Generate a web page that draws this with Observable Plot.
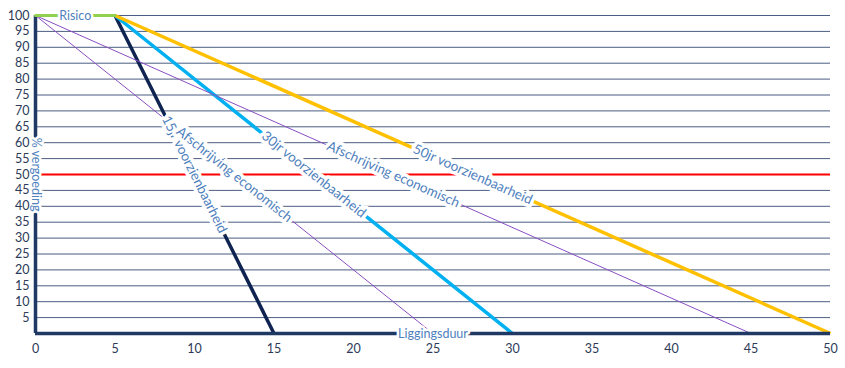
<!DOCTYPE html>
<html><head><meta charset="utf-8">
<script src="https://cdn.jsdelivr.net/npm/d3@7"></script>
<script src="https://cdn.jsdelivr.net/npm/@observablehq/plot@0.6"></script>
<style>body{margin:0;background:#fff}</style>
</head><body><div id="chart"></div>
<script>
const xTicks = [0, 5, 10, 15, 20, 25, 30, 35, 40, 45, 50];
const yTicks = [5, 10, 15, 20, 25, 30, 35, 40, 45, 50, 55, 60, 65, 70, 75, 80, 85, 90, 95, 100];
const gridValues = [5, 10, 15, 20, 25, 30, 35, 40, 45, 55, 60, 65, 70, 75, 80, 85, 90, 95, 100];
const seriesNames = ["15jr voorzienbaarheid", "30jr voorzienbaarheid", "50jr voorzienbaarheid", "Afschrijving economisch", "Afschrijving economisch"];
const seriesX1 = [5, 5, 5, 0, 0];
const seriesY1 = [100, 100, 100, 100, 100];
const seriesX2 = [15, 30, 50, 25, 45];
const seriesY2 = [0, 0, 0, 0, 0];
const riskLabel = "Risico";
const riskX = [0, 5];
const riskY = [100, 100];
const thresholdY = 50;
const xLabel = "Liggingsduur";
const yLabel = "% vergoeding";

// styles
const seriesColors = ["#0f2350", "#00b0f0", "#ffc000", "#8a4fc2", "#8a4fc2"];
const seriesWidths = [3.5, 3.5, 3.5, 1, 1];
const W = 845, H = 368, mL = 35, mR = 15, mT = 15, mB = 35;
const pw = W - mL - mR, ph = H - mT - mB;

const series = seriesNames.map((name, i) => ({
  name, i, x1: seriesX1[i], y1: seriesY1[i], x2: seriesX2[i], y2: seriesY2[i],
  mx: (seriesX1[i] + seriesX2[i]) / 2, my: (seriesY1[i] + seriesY2[i]) / 2,
  angle: Math.atan2((seriesY1[i] - seriesY2[i]) * ph / 100, (seriesX2[i] - seriesX1[i]) * pw / 50) * 180 / Math.PI
}));

const font = "Lato, 'Open Sans', sans-serif";
const labelColor = "#4f81bd";

const chart = Plot.plot({
  width: W, height: H,
  marginLeft: mL, marginRight: mR, marginTop: mT, marginBottom: mB,
  style: {fontFamily: font, background: "#fff", overflow: "visible"},
  x: {domain: [0, 50]},
  y: {domain: [0, 100]},
  marks: [
    Plot.ruleY(gridValues, {x1: 0, x2: 50, stroke: "#4a5d82", strokeWidth: 1}),
    Plot.ruleY([thresholdY], {x1: 0, x2: 50, stroke: "#ff0000", strokeWidth: 2}),
    ...series.map(s => Plot.link([s], {x1: "x1", y1: "y1", x2: "x2", y2: "y2", stroke: seriesColors[s.i], strokeWidth: seriesWidths[s.i]})),
    Plot.ruleX([0], {y1: 0, y2: 100, stroke: "#1f3864", strokeWidth: 3.5}),
    Plot.ruleY([0], {x1: 0, x2: 50, stroke: "#1f3864", strokeWidth: 3.5}),
    Plot.line(riskX.map((x, i) => ({x, y: riskY[i]})), {x: "x", y: "y", stroke: "#92d050", strokeWidth: 3}),
    Plot.text(series, {x: "mx", y: "my", text: "name", rotate: "angle", fill: labelColor, stroke: "white", strokeWidth: 7, paintOrder: "stroke", fontSize: 13.5}),
    Plot.text([riskLabel], {x: (riskX[0] + riskX[1]) / 2, y: riskY[0], text: d => d, fill: labelColor, stroke: "white", strokeWidth: 5, paintOrder: "stroke", fontSize: 12.5}),
    Plot.text([yLabel], {x: 0, y: 50, text: d => d, rotate: 90, fill: labelColor, stroke: "white", strokeWidth: 5, paintOrder: "stroke", fontSize: 12.5}),
    Plot.text([xLabel], {x: 25, y: 0, text: d => d, fill: labelColor, stroke: "white", strokeWidth: 5, paintOrder: "stroke", fontSize: 12.5}),
    Plot.axisX({ticks: xTicks, tickSize: 0, tickPadding: 11, label: null, fontSize: 12.5, color: "#2c3a58", tickFormat: d => d}),
    Plot.axisY({ticks: yTicks, tickSize: 0, tickPadding: 6, label: null, fontSize: 12.5, color: "#2c3a58", tickFormat: d => d})
  ]
});
document.getElementById("chart").appendChild(chart);
</script></body></html>
